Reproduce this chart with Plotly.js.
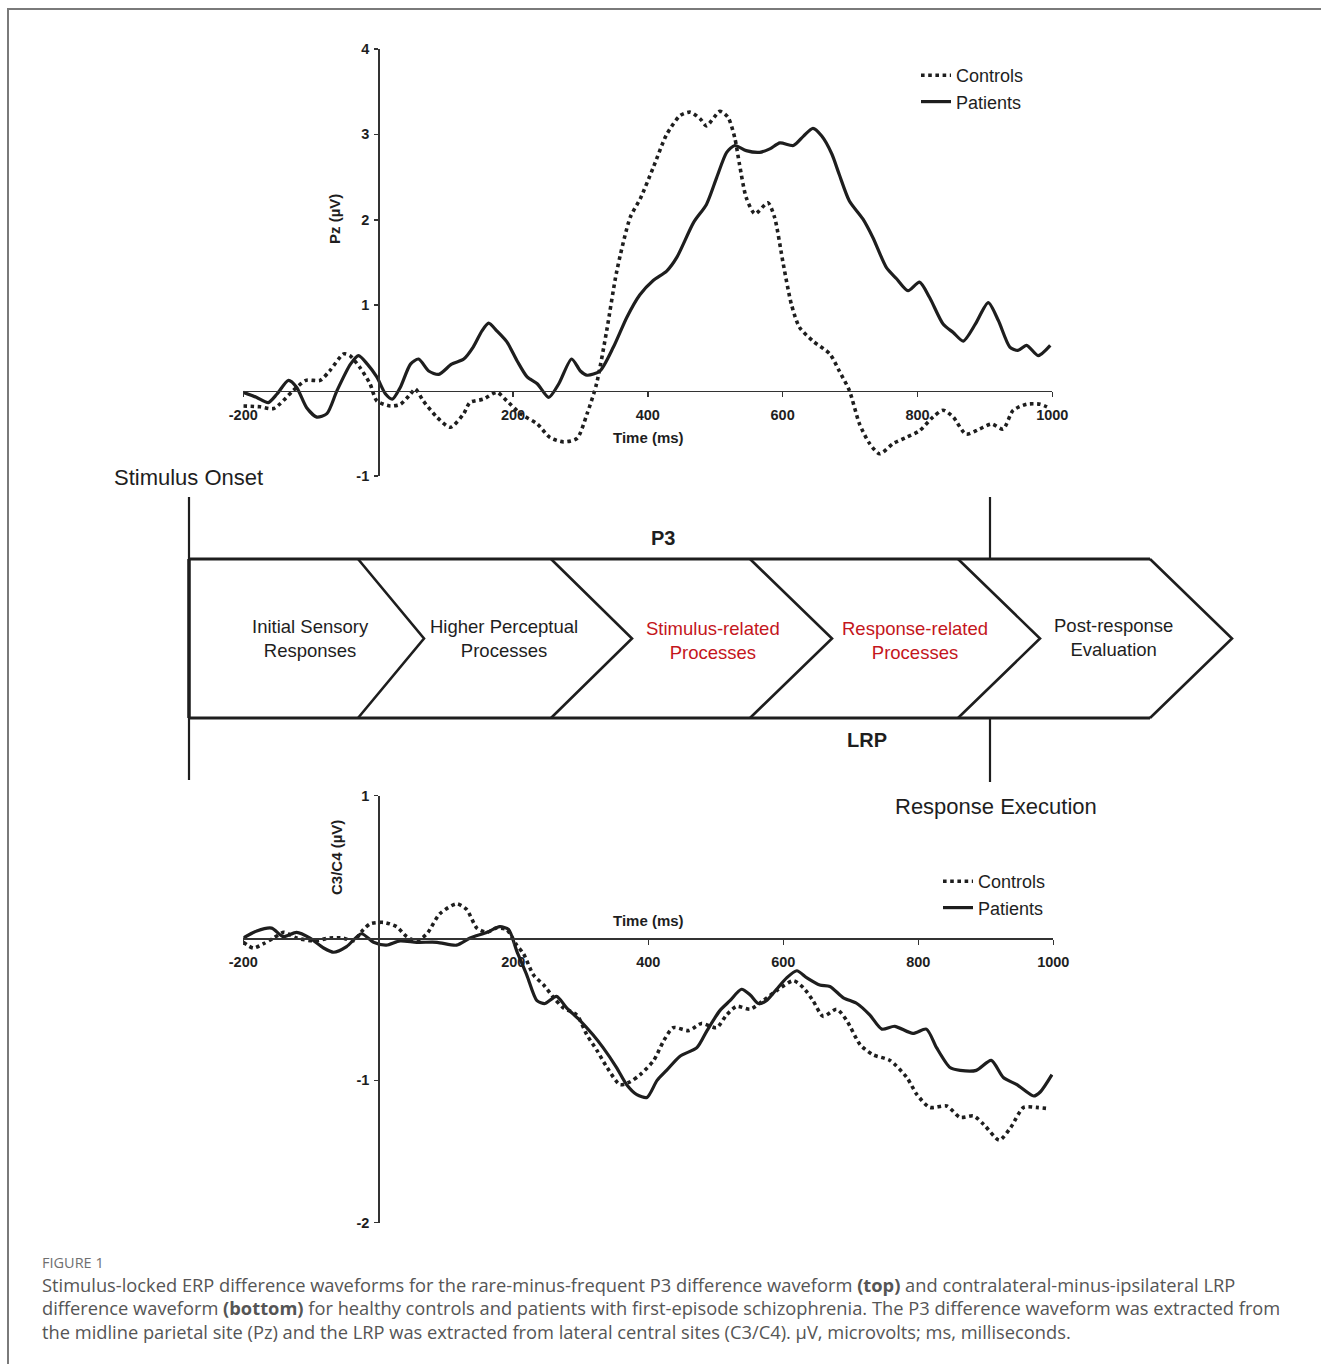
<!DOCTYPE html>
<html>
<head>
<meta charset="utf-8">
<script src="https://cdn.plot.ly/plotly-3.0.1.min.js"></script>
<style>
  html, body { margin: 0; padding: 0; background: #fff; }
  #chart { width: 1321px; height: 1364px; }
</style>
</head>
<body>
<div id="chart"></div>
<script>
// ---------------- DATA ----------------
// Top panel: P3 difference waveform at Pz (µV) vs time (ms)
const timeTopControls = [-200,-175,-155,-126,-107,-86,-72,-51,-42,-27,-12,-2,18,33,48,55,67,87,107,127,136,156,176,191,211,236,255,275,295,310,324,339,354,374,389,408,428,448,463,478,487,507,519,529,536,546,559,578,588,601,613,625,645,670,684,699,714,729,744,764,783,803,823,838,853,872,892,910,927,942,962,982,997];
const pzControls = [-0.18,-0.19,-0.21,0.0,0.12,0.12,0.23,0.43,0.41,0.27,0.08,-0.12,-0.18,-0.16,-0.04,0.02,-0.12,-0.31,-0.43,-0.27,-0.14,-0.10,-0.02,-0.12,-0.27,-0.39,-0.55,-0.60,-0.56,-0.27,0.08,0.70,1.40,2.03,2.25,2.61,3.00,3.22,3.26,3.18,3.10,3.27,3.20,2.96,2.65,2.26,2.07,2.20,2.03,1.48,1.01,0.74,0.58,0.43,0.23,0.00,-0.39,-0.62,-0.74,-0.62,-0.55,-0.47,-0.31,-0.23,-0.31,-0.51,-0.45,-0.39,-0.45,-0.23,-0.16,-0.16,-0.21];

const timeTopPatients = [-200,-180,-163,-150,-133,-121,-106,-91,-76,-61,-41,-29,-16,-2,11,21,33,48,60,75,90,109,127,141,154,164,176,191,206,221,236,253,268,287,300,310,329,349,369,388,408,428,443,468,487,502,517,529,546,566,581,596,616,631,645,658,673,684,699,719,734,754,769,786,803,818,838,853,868,886,905,920,937,949,962,979,997];
const pzPatients = [-0.02,-0.08,-0.14,-0.04,0.12,0.04,-0.20,-0.31,-0.27,0.0,0.31,0.41,0.31,0.16,-0.04,-0.10,0.04,0.31,0.37,0.23,0.19,0.31,0.37,0.51,0.70,0.79,0.70,0.57,0.35,0.16,0.08,-0.08,0.08,0.37,0.23,0.18,0.23,0.51,0.86,1.12,1.29,1.40,1.56,1.97,2.18,2.49,2.79,2.87,2.81,2.79,2.83,2.90,2.87,2.98,3.07,2.98,2.77,2.53,2.22,2.01,1.79,1.44,1.31,1.17,1.27,1.09,0.78,0.68,0.58,0.78,1.03,0.82,0.51,0.47,0.53,0.41,0.53];

// Bottom panel: LRP difference waveform at C3/C4 (µV) vs time (ms)
const timeBotControls = [-200,-185,-170,-155,-140,-121,-96,-72,-52,-37,-22,-12,8,27,42,57,72,91,116,131,146,161,175,190,205,215,230,245,260,274,294,309,324,339,358,373,388,408,423,437,460,479,501,516,531,551,570,590,615,630,644,659,679,694,714,733,758,783,798,817,842,862,882,897,920,937,956,975,995];
const lrpControls = [-0.03,-0.07,-0.04,0.0,0.04,0.0,-0.02,0.0,0.0,-0.02,0.06,0.10,0.11,0.08,0.01,-0.02,0.03,0.17,0.24,0.20,0.07,0.04,0.07,0.06,-0.05,-0.11,-0.26,-0.33,-0.42,-0.49,-0.54,-0.68,-0.79,-0.91,-1.03,-1.01,-0.96,-0.86,-0.72,-0.63,-0.65,-0.60,-0.63,-0.54,-0.48,-0.50,-0.44,-0.37,-0.30,-0.35,-0.44,-0.55,-0.50,-0.58,-0.75,-0.82,-0.86,-0.98,-1.10,-1.19,-1.18,-1.26,-1.25,-1.31,-1.42,-1.33,-1.19,-1.19,-1.20];

const timeBotPatients = [-200,-180,-158,-141,-121,-101,-81,-66,-47,-25,-7,12,32,57,87,116,136,161,180,193,205,220,235,247,264,279,299,318,333,353,368,383,398,413,427,447,472,487,506,521,538,551,563,575,590,605,620,635,654,669,689,709,728,746,765,792,812,827,847,862,886,908,926,946,971,981,998];
const lrpPatients = [0.0,0.05,0.07,0.01,0.04,0.0,-0.07,-0.10,-0.06,0.03,-0.03,-0.05,-0.02,-0.03,-0.03,-0.05,0.0,0.04,0.08,0.06,-0.09,-0.26,-0.44,-0.46,-0.41,-0.49,-0.58,-0.68,-0.77,-0.91,-1.03,-1.10,-1.12,-1.00,-0.93,-0.83,-0.77,-0.65,-0.51,-0.44,-0.36,-0.40,-0.46,-0.44,-0.36,-0.28,-0.23,-0.28,-0.33,-0.34,-0.42,-0.46,-0.54,-0.64,-0.62,-0.67,-0.64,-0.77,-0.91,-0.93,-0.93,-0.86,-0.98,-1.03,-1.11,-1.08,-0.96];

const seriesNames = ['Controls', 'Patients'];
const xTickVals = [-200, 200, 400, 600, 800, 1000];
const xTickText = ['-200', '200', '400', '600', '800', '1000'];
const yTopTickVals = [-1, 1, 2, 3, 4];
const yTopTickText = ['-1', '1', '2', '3', '4'];
const yBotTickVals = [-2, -1, 1];
const yBotTickText = ['-2', '-1', '1'];

const stageLabels = ['Initial Sensory<br>Responses', 'Higher Perceptual<br>Processes', 'Stimulus-related<br>Processes', 'Response-related<br>Processes', 'Post-response<br>Evaluation'];
const stageRed = [false, false, true, true, false];

// ---------------- LAYOUT HELPERS ----------------
const W = 1321, H = 1364;
const px = x => x / W;            // pixel -> paper x
const py = y => 1 - y / H;        // pixel -> paper y
const FONT = 'Liberation Sans, Arial, Helvetica, sans-serif';
const INK = '#1e1e1e';

const topX = [px(243.3), px(1052.3)], topY = [py(476), py(49)];
const botX = [px(243.3), px(1053.3)], botY = [py(1222.7), py(795.7)];
const xRange = [-200, 1000], topRange = [-1, 4], botRange = [-2, 1];
const zeroPos = (dom, rng) => dom[0] + (0 - rng[0]) / (rng[1] - rng[0]) * (dom[1] - dom[0]);

const lineC = { color: INK, width: 3.6, dash: 'dot', shape: 'spline', smoothing: 0.7 };
const lineP = { color: INK, width: 3.2, shape: 'spline', smoothing: 0.7 };

const traces = [
  { x: timeTopControls, y: pzControls, name: seriesNames[0], mode: 'lines', line: lineC, xaxis: 'x', yaxis: 'y', legend: 'legend' },
  { x: timeTopPatients, y: pzPatients, name: seriesNames[1], mode: 'lines', line: lineP, xaxis: 'x', yaxis: 'y', legend: 'legend' },
  { x: timeBotControls, y: lrpControls, name: seriesNames[0], mode: 'lines', line: lineC, xaxis: 'x2', yaxis: 'y2', legend: 'legend2' },
  { x: timeBotPatients, y: lrpPatients, name: seriesNames[1], mode: 'lines', line: lineP, xaxis: 'x2', yaxis: 'y2', legend: 'legend2' }
];

const axisCommon = {
  showgrid: false, zeroline: false, showline: true, linecolor: '#333', linewidth: 1.5,
  ticks: 'outside', ticklen: 5, tickwidth: 1.5, tickcolor: '#333',
  tickfont: { family: FONT, size: 14.5, color: INK, weight: 'bold' },
  fixedrange: true
};

const layout = {
  width: W, height: H,
  margin: { l: 0, r: 0, t: 0, b: 0 },
  paper_bgcolor: '#fff', plot_bgcolor: 'rgba(0,0,0,0)',
  font: { family: FONT, color: INK },
  showlegend: true,
  xaxis: Object.assign({}, axisCommon, { domain: topX, range: xRange, anchor: 'free', position: zeroPos(topY, topRange), tickvals: xTickVals, ticktext: xTickText, ticklabelstandoff: 5 }),
  yaxis: Object.assign({}, axisCommon, { domain: topY, range: topRange, anchor: 'free', position: zeroPos(topX, xRange), tickvals: yTopTickVals, ticktext: yTopTickText, ticklen: 4, ticklabelstandoff: 2 }),
  xaxis2: Object.assign({}, axisCommon, { domain: botX, range: xRange, anchor: 'free', position: zeroPos(botY, botRange), tickvals: xTickVals, ticktext: xTickText, ticklabelstandoff: 5 }),
  yaxis2: Object.assign({}, axisCommon, { domain: botY, range: botRange, anchor: 'free', position: zeroPos(botX, xRange), tickvals: yBotTickVals, ticktext: yBotTickText, ticklen: 4, ticklabelstandoff: 2 }),
  legend: { x: px(916), y: py(57), xanchor: 'left', yanchor: 'top', bgcolor: 'rgba(0,0,0,0)', font: { family: FONT, size: 18, color: INK }, itemwidth: 30, traceorder: 'normal', tracegroupgap: 0 },
  legend2: { x: px(938), y: py(863), xanchor: 'left', yanchor: 'top', bgcolor: 'rgba(0,0,0,0)', font: { family: FONT, size: 18, color: INK }, itemwidth: 30, traceorder: 'normal', tracegroupgap: 0 },
  shapes: [],
  annotations: []
};

// Figure frame
layout.shapes.push({ type: 'rect', xref: 'paper', yref: 'paper', x0: px(8), y0: py(9), x1: px(1340), y1: py(1400), line: { color: '#7a7a7a', width: 2 }, layer: 'below' });

// Process diagram
const ln = (x0, y0, x1, y1, w) => ({ type: 'line', xref: 'paper', yref: 'paper', x0: px(x0), y0: py(y0), x1: px(x1), y1: py(y1), line: { color: INK, width: w } });
const bandTop = 559, bandBot = 718, bandMid = 638.5;
layout.shapes.push(ln(189, 497, 189, 780, 2.2));
layout.shapes.push(ln(189, bandTop, 189, bandBot, 3.5));
layout.shapes.push(ln(189, bandTop, 1150, bandTop, 3));
layout.shapes.push(ln(189, bandBot, 1150, bandBot, 3));
layout.shapes.push(ln(990, 497, 990, bandTop, 2.2));
layout.shapes.push(ln(990, bandBot, 990, 782, 2.2));
const chevronBase = [358, 551, 750, 958, 1150];
const chevronTip = [424, 632, 832, 1040, 1232];
chevronBase.forEach((b, i) => {
  const t = chevronTip[i];
  layout.shapes.push({ type: 'path', xref: 'paper', yref: 'paper',
    path: `M ${px(b)} ${py(bandTop)} L ${px(t)} ${py(bandMid)} L ${px(b)} ${py(bandBot)}`,
    line: { color: INK, width: 2.6 } });
});

const ann = (x, y, text, opts) => Object.assign({ xref: 'paper', yref: 'paper', x: px(x), y: py(y), text: text, showarrow: false, xanchor: 'center', yanchor: 'middle', font: { family: FONT, size: 19, color: INK } }, opts || {});

const stageCenters = [310, 504, 713, 915, 1113];
const stageY = [638, 638, 640, 640, 637];
stageLabels.forEach((s, i) => {
  layout.annotations.push(ann(stageCenters[i], stageY[i], s, { font: { family: FONT, size: 18.5, color: stageRed[i] ? '#c4161c' : INK } }));
});
layout.annotations.push(ann(112, 477, 'Stimulus Onset', { xanchor: 'left', font: { family: FONT, size: 22, color: INK } }));
layout.annotations.push(ann(893, 806, 'Response Execution', { xanchor: 'left', font: { family: FONT, size: 22, color: INK } }));
layout.annotations.push(ann(663, 538, '<b>P3</b>', { font: { family: FONT, size: 20, color: INK } }));
layout.annotations.push(ann(867, 740, '<b>LRP</b>', { font: { family: FONT, size: 20, color: INK } }));

// Axis titles
layout.annotations.push(ann(648, 438, '<b>Time (ms)</b>', { font: { family: FONT, size: 15, color: INK } }));
layout.annotations.push(ann(648, 921, '<b>Time (ms)</b>', { font: { family: FONT, size: 15, color: INK } }));
layout.annotations.push(ann(335, 219, '<b>Pz (µV)</b>', { textangle: -90, font: { family: FONT, size: 15, color: INK } }));
layout.annotations.push(ann(336, 858, '<b>C3/C4 (µV)</b>', { textangle: -90, font: { family: FONT, size: 15, color: INK } }));

// Caption
const CAP = 'Open Sans, Noto Sans, sans-serif';
layout.annotations.push(ann(40, 1262, 'FIGURE 1', { xanchor: 'left', font: { family: CAP, size: 14.5, color: '#6f6f6f' } }));
const captionLines = [
  'Stimulus-locked ERP difference waveforms for the rare-minus-frequent P3 difference waveform <b>(top)</b> and contralateral-minus-ipsilateral LRP',
  'difference waveform <b>(bottom)</b> for healthy controls and patients with first-episode schizophrenia. The P3 difference waveform was extracted from',
  'the midline parietal site (Pz) and the LRP was extracted from lateral central sites (C3/C4). µV, microvolts; ms, milliseconds.'
];
const captionY = [1284, 1307.5, 1331];
captionLines.forEach((c, i) => {
  layout.annotations.push(ann(40, captionY[i], c, { xanchor: 'left', font: { family: CAP, size: 18.3, color: '#555' } }));
});

Plotly.newPlot('chart', traces, layout, { displayModeBar: false, staticPlot: true });
</script>
</body>
</html>
